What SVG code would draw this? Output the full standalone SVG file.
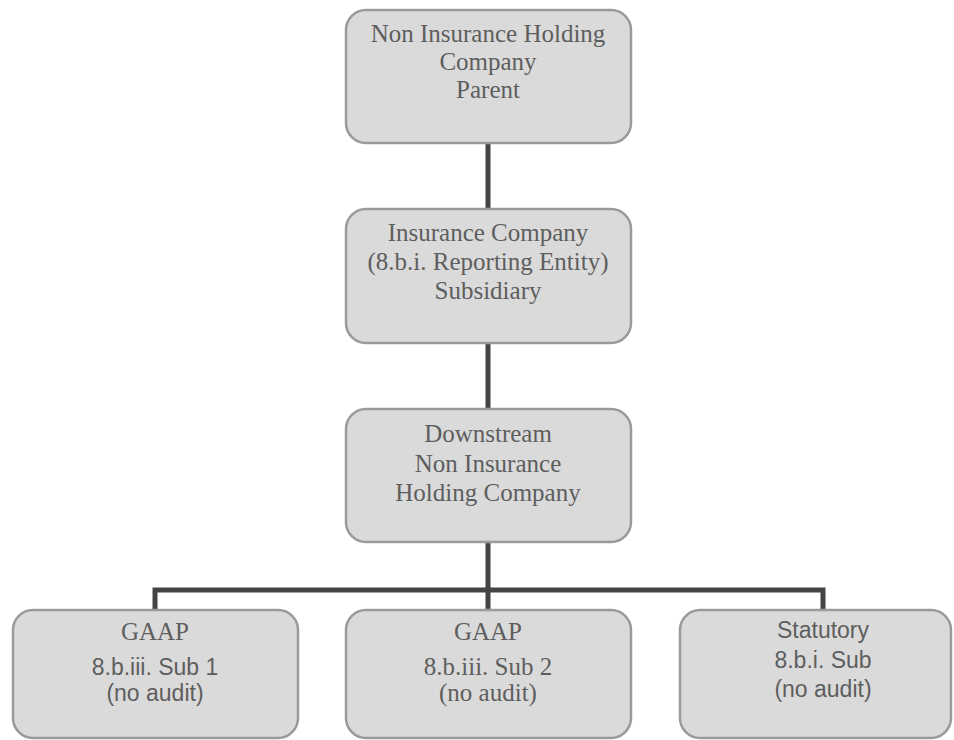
<svg xmlns="http://www.w3.org/2000/svg" width="954" height="740" viewBox="0 0 954 740">
<style>
.box{fill:#dadada;stroke:#9a9a9a;stroke-width:2.5}
.t{font-family:"Liberation Serif",serif;font-size:25px;fill:#5e5e5e;text-anchor:middle}
.s{font-family:"Liberation Sans",sans-serif;font-size:23px;fill:#5e5e5e;text-anchor:middle}
.c{fill:none;stroke:#444;stroke-width:5}
</style>
<rect width="954" height="740" fill="#fff"/>
<g id="connectors">
<line class="c" x1="488" y1="143" x2="488" y2="208"/>
<line class="c" x1="488" y1="343" x2="488" y2="408"/>
<line class="c" x1="488" y1="542" x2="488" y2="610"/>
<polyline class="c" points="155,610 155,590 823,590 823,610"/>
</g>
<g id="parent">
<rect class="box" x="346" y="10" width="285" height="133" rx="20"/>
<text class="t" x="488" y="42">Non Insurance Holding</text>
<text class="t" x="488" y="70">Company</text>
<text class="t" x="488" y="98">Parent</text>
</g>
<g id="insurance">
<rect class="box" x="346" y="209" width="285" height="134" rx="20"/>
<text class="t" x="488" y="241">Insurance Company</text>
<text class="t" x="488" y="270">(8.b.i. Reporting Entity)</text>
<text class="t" x="488" y="299">Subsidiary</text>
</g>
<g id="downstream">
<rect class="box" x="346" y="409" width="285" height="133" rx="20"/>
<text class="t" x="488" y="442">Downstream</text>
<text class="t" x="488" y="472">Non Insurance</text>
<text class="t" x="488" y="501">Holding Company</text>
</g>
<g id="sub1">
<rect class="box" x="13" y="610" width="285" height="128" rx="20"/>
<text class="t" x="155" y="640">GAAP</text>
<text class="s" x="155" y="675">8.b.iii. Sub 1</text>
<text class="s" x="155" y="701">(no audit)</text>
</g>
<g id="sub2">
<rect class="box" x="346" y="610" width="285" height="128" rx="20"/>
<text class="t" x="488" y="640">GAAP</text>
<text class="t" x="488" y="675">8.b.iii. Sub 2</text>
<text class="t" x="488" y="701">(no audit)</text>
</g>
<g id="statutory">
<rect class="box" x="680" y="610" width="271" height="128" rx="20"/>
<text class="s" x="823" y="638">Statutory</text>
<text class="s" x="823" y="668">8.b.i. Sub</text>
<text class="s" x="823" y="697">(no audit)</text>
</g>
</svg>
